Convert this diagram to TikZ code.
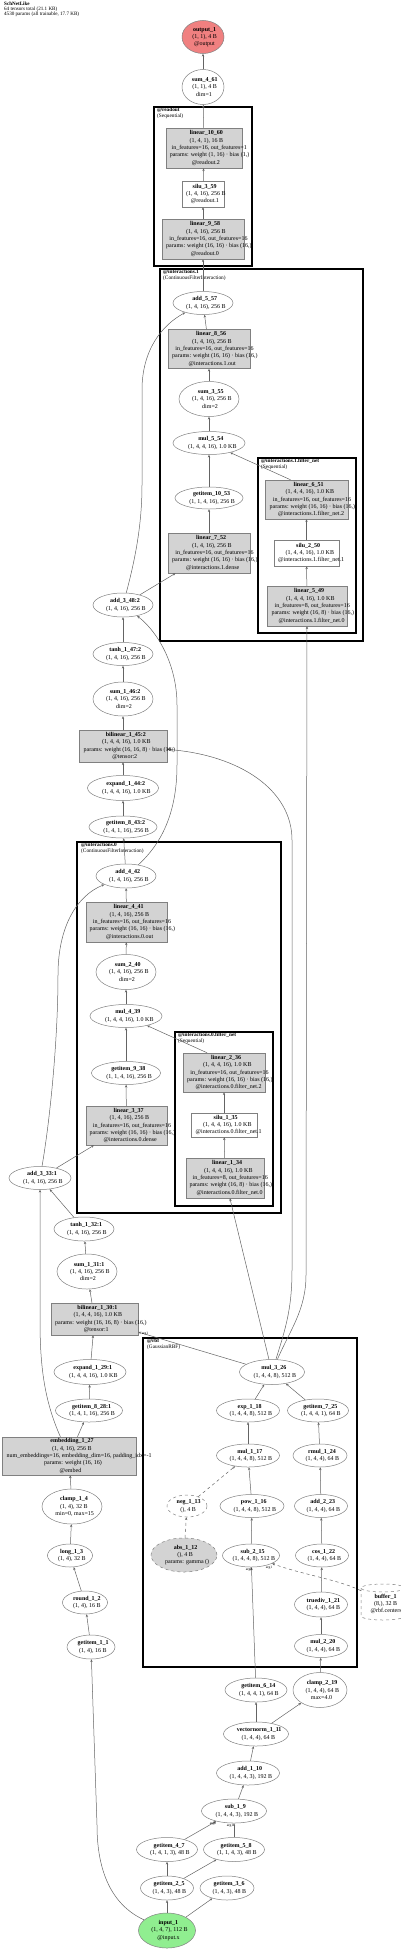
\documentclass[tikz,border=0pt]{standalone}
\usepackage{fontspec}
\setmainfont{Liberation Serif}
\usetikzlibrary{shapes.geometric,arrows.meta,calc}
\definecolor{edgec}{RGB}{100,100,100}
\definecolor{nbord}{RGB}{128,128,128}
\definecolor{boxfill}{RGB}{211,211,211}
\definecolor{outfill}{RGB}{240,128,128}
\definecolor{infill}{RGB}{144,238,144}
\ExplSyntaxOn
\seq_new:N \l_rs_lines_seq
\tl_new:N \l_rs_out_tl
\bool_new:N \l_rs_first_bool
\dim_new:N \l_rs_shift_dim
\cs_new_protected:Npn \rs_shline:n #1
  {
    \hbox_set:Nn \l_tmpa_box {#1}
    \dim_set:Nn \l_rs_shift_dim { 0.14 \box_wd:N \l_tmpa_box }
    \hbox:n { \kern \l_rs_shift_dim \box_use:N \l_tmpa_box }
  }
\NewDocumentCommand \shtext { m }
  {
    \seq_set_split:Nnn \l_rs_lines_seq { \\ } {#1}
    \tl_clear:N \l_rs_out_tl
    \bool_set_true:N \l_rs_first_bool
    \seq_map_inline:Nn \l_rs_lines_seq
      {
        \bool_if:NF \l_rs_first_bool { \tl_put_right:Nn \l_rs_out_tl { \\ } }
        \bool_set_false:N \l_rs_first_bool
        \tl_put_right:Nn \l_rs_out_tl { \rs_shline:n {##1} }
      }
    \tl_use:N \l_rs_out_tl
  }
\ExplSyntaxOff
\newcommand\nd[7]{%
  \node[#2, minimum width=#5pt, minimum height=#6pt] (#1) at (#3,#4) {};
  \node[txt] (#1-t) at (#1.center) {\shtext{#7}};%
}
\begin{document}
\begin{tikzpicture}[x=1pt,y=-1pt,
  txt/.style={align=center, inner sep=0pt, font=\fontsize{6.0}{7.3}\selectfont},
  base/.style={inner sep=0pt, draw=nbord, line width=0.5pt},
  ell/.style={base, ellipse},
  dell/.style={base, ellipse, dashed},
  gell/.style={base, ellipse, dashed, fill=boxfill},
  outn/.style={base, ellipse, fill=outfill},
  inn/.style={base, ellipse, fill=infill},
  box/.style={base, rectangle, fill=boxfill},
  wbox/.style={base, rectangle, fill=white},
  clus/.style={draw=black, line width=2pt},
  clab/.style={anchor=north west, align=left, inner sep=0pt, font=\fontsize{5.3}{5.4}\selectfont},
  e/.style={draw=edgec, line width=0.5pt, -{Stealth[length=2.8pt,width=2.4pt]}},
  lab/.style={inner sep=0pt, font=\fontsize{3.6}{4}\selectfont}
]
\useasboundingbox (0,0) rectangle (400,1951);

% header
\node[anchor=north west, align=left, inner sep=0pt, font=\fontsize{5.1}{5}\selectfont] (hdr) at (4,2)
  {\textbf{SchNetLike}\\64 tensors total (21.1 KB)\\4530 params (all trainable, 17.7 KB)};

% clusters
\draw[clus] (154,107) rectangle (252,266);
\node[clab] (cl1) at (157,108) {\textbf{@readout}\\(Sequential)};
\draw[clus] (160,269) rectangle (363,641);
\node[clab] (cl2) at (163,270) {\textbf{@interactions.1}\\(ContinuousFilterInteraction)};
\draw[clus] (258,458) rectangle (356,633);
\node[clab] (cl3) at (261,459) {\textbf{@interactions.1.filter\_net}\\(Sequential)};
\draw[clus] (77,842) rectangle (281,1213);
\node[clab] (cl4) at (81,843) {\textbf{@interactions.0}\\(ContinuousFilterInteraction)};
\draw[clus] (175,1032) rectangle (273,1206);
\node[clab] (cl5) at (178,1033) {\textbf{@interactions.0.filter\_net}\\(Sequential)};
\draw[clus] (143,1338) rectangle (357,1667);
\node[clab] (cl6) at (147,1339) {\textbf{@rbf}\\(GaussianRBF)};

% nodes
\nd{o1}{outn}{203}{37}{42}{33}{\textbf{output\_1}\\(1, 1), 4 B\\@output}
\nd{s461}{ell}{203}{87}{42}{35}{\textbf{sum\_4\_61}\\(1, 1), 4 B\\dim=1}
\nd{l1060}{box}{204}{148}{76}{40}{\textbf{linear\_10\_60}\\(1, 4, 1), 16 B\\in\_features=16, out\_features=1\\params: weight (1, 16) · bias (1,)\\@readout.2}
\nd{si359}{wbox}{203}{194}{42}{26}{\textbf{silu\_3\_59}\\(1, 4, 16), 256 B\\@readout.1}
\nd{l958}{box}{203}{239}{82}{40}{\textbf{linear\_9\_58}\\(1, 4, 16), 256 B\\in\_features=16, out\_features=16\\params: weight (16, 16) · bias (16,)\\@readout.0}
\nd{a557}{ell}{203}{303}{60}{23}{\textbf{add\_5\_57}\\(1, 4, 16), 256 B}
\nd{l856}{box}{209}{349}{82}{39}{\textbf{linear\_8\_56}\\(1, 4, 16), 256 B\\in\_features=16, out\_features=16\\params: weight (16, 16) · bias (16,)\\@interactions.1.out}
\nd{s355}{ell}{209}{399}{60}{35}{\textbf{sum\_3\_55}\\(1, 4, 16), 256 B\\dim=2}
\nd{m554}{ell}{209}{443}{72}{23}{\textbf{mul\_5\_54}\\(1, 4, 4, 16), 1.0 KB}
\nd{g1053}{ell}{209}{498}{68}{22}{\textbf{getitem\_10\_53}\\(1, 1, 4, 16), 256 B}
\nd{l752}{box}{209}{553}{82}{40}{\textbf{linear\_7\_52}\\(1, 4, 16), 256 B\\in\_features=16, out\_features=16\\params: weight (16, 16) · bias (16,)\\@interactions.1.dense}
\nd{l651}{box}{306.5}{499.5}{83}{39}{\textbf{linear\_6\_51}\\(1, 4, 4, 16), 1.0 KB\\in\_features=16, out\_features=16\\params: weight (16, 16) · bias (16,)\\@interactions.1.filter\_net.2}
\nd{si250}{wbox}{306.5}{553}{65}{26}{\textbf{silu\_2\_50}\\(1, 4, 4, 16), 1.0 KB\\@interactions.1.filter\_net.1}
\nd{l549}{box}{307}{606}{80}{40}{\textbf{linear\_5\_49}\\(1, 4, 4, 16), 1.0 KB\\in\_features=8, out\_features=16\\params: weight (16, 8) · bias (16,)\\@interactions.1.filter\_net.0}
\nd{a348}{ell}{123}{605}{60}{24}{\textbf{add\_3\_48:2}\\(1, 4, 16), 256 B}
\nd{t147}{ell}{123}{654}{60}{23}{\textbf{tanh\_1\_47:2}\\(1, 4, 16), 256 B}
\nd{s146}{ell}{123}{699}{60}{34}{\textbf{sum\_1\_46:2}\\(1, 4, 16), 256 B\\dim=2}
\nd{b452}{box}{123}{746}{88}{32}{\textbf{bilinear\_1\_45:2}\\(1, 4, 4, 16), 1.0 KB\\params: weight (16, 16, 8) · bias (16,)\\@tensor:2}
\nd{e144}{ell}{123}{788}{71}{25}{\textbf{expand\_1\_44:2}\\(1, 4, 4, 16), 1.0 KB}
\nd{g843}{ell}{123}{827}{68}{22}{\textbf{getitem\_8\_43:2}\\(1, 4, 1, 16), 256 B}
\nd{a442}{ell}{126}{876}{60}{24}{\textbf{add\_4\_42}\\(1, 4, 16), 256 B}
\nd{l441}{box}{126.5}{922}{81}{40}{\textbf{linear\_4\_41}\\(1, 4, 16), 256 B\\in\_features=16, out\_features=16\\params: weight (16, 16) · bias (16,)\\@interactions.0.out}
\nd{s240}{ell}{126}{972}{60}{35}{\textbf{sum\_2\_40}\\(1, 4, 16), 256 B\\dim=2}
\nd{m439}{ell}{126}{1016}{72}{23}{\textbf{mul\_4\_39}\\(1, 4, 4, 16), 1.0 KB}
\nd{g938}{ell}{126}{1073}{69}{23}{\textbf{getitem\_9\_38}\\(1, 1, 4, 16), 256 B}
\nd{l337}{box}{126.5}{1125.5}{81}{39}{\textbf{linear\_3\_37}\\(1, 4, 16), 256 B\\in\_features=16, out\_features=16\\params: weight (16, 16) · bias (16,)\\@interactions.0.dense}
\nd{l236}{box}{224}{1072.5}{82}{39}{\textbf{linear\_2\_36}\\(1, 4, 4, 16), 1.0 KB\\in\_features=16, out\_features=16\\params: weight (16, 16) · bias (16,)\\@interactions.0.filter\_net.2}
\nd{si135}{wbox}{224}{1125}{66}{24}{\textbf{silu\_1\_35}\\(1, 4, 4, 16), 1.0 KB\\@interactions.0.filter\_net.1}
\nd{l134}{box}{225}{1178}{78}{40}{\textbf{linear\_1\_34}\\(1, 4, 4, 16), 1.0 KB\\in\_features=8, out\_features=16\\params: weight (16, 8) · bias (16,)\\@interactions.0.filter\_net.0}
\nd{a333}{ell}{40}{1178}{62}{23}{\textbf{add\_3\_33:1}\\(1, 4, 16), 256 B}
\nd{t132}{ell}{84}{1229}{60}{24}{\textbf{tanh\_1\_32:1}\\(1, 4, 16), 256 B}
\nd{s131}{ell}{87}{1271.5}{60}{35}{\textbf{sum\_1\_31:1}\\(1, 4, 16), 256 B\\dim=2}
\nd{b301}{box}{94.5}{1319}{87}{32}{\textbf{bilinear\_1\_30:1}\\(1, 4, 4, 16), 1.0 KB\\params: weight (16, 16, 8) · bias (16,)\\@tensor:1}
\nd{e129}{ell}{90}{1372}{72}{25}{\textbf{expand\_1\_29:1}\\(1, 4, 4, 16), 1.0 KB}
\nd{m326}{ell}{272}{1372}{65}{25}{\textbf{mul\_3\_26}\\(1, 4, 4, 8), 512 B}
\nd{g828}{ell}{89}{1410.5}{67}{23}{\textbf{getitem\_8\_28:1}\\(1, 4, 1, 16), 256 B}
\nd{x118}{ell}{248}{1410.5}{63}{23}{\textbf{exp\_1\_18}\\(1, 4, 4, 8), 512 B}
\nd{g725}{ell}{318}{1410.5}{61}{23}{\textbf{getitem\_7\_25}\\(1, 4, 4, 1), 64 B}
\nd{emb}{box}{69}{1456}{134}{38}{\textbf{embedding\_1\_27}\\(1, 4, 16), 256 B\\num\_embeddings=16, embedding\_dim=16, padding\_idx=-1\\params: weight (16, 16)\\@embed}
\nd{m117}{ell}{248}{1455.5}{63}{23}{\textbf{mul\_1\_17}\\(1, 4, 4, 8), 512 B}
\nd{rm124}{ell}{320}{1455.5}{54}{23}{\textbf{rmul\_1\_24}\\(1, 4, 4), 64 B}
\nd{c14}{ell}{72}{1506.5}{60}{35}{\textbf{clamp\_1\_4}\\(1, 4), 32 B\\min=0, max=15}
\nd{n113}{dell}{187}{1506}{40}{22}{\textbf{neg\_1\_13}\\(), 4 B}
\nd{p116}{ell}{252}{1506}{64}{23}{\textbf{pow\_1\_16}\\(1, 4, 4, 8), 512 B}
\nd{a223}{ell}{321}{1506}{53}{23}{\textbf{add\_2\_23}\\(1, 4, 4), 64 B}
\nd{ab112}{gell}{184}{1555}{66}{34}{\textbf{abs\_1\_12}\\(), 4 B\\params: gamma ()}
\nd{l13}{ell}{70}{1555.5}{45}{23}{\textbf{long\_1\_3}\\(1, 4), 32 B}
\nd{s215}{ell}{251}{1555.5}{57}{23}{\textbf{sub\_2\_15}\\(1, 4, 4, 8), 512 B}
\nd{c122}{ell}{322}{1555.5}{53}{23}{\textbf{cos\_1\_22}\\(1, 4, 4), 64 B}
\nd{r12}{ell}{85}{1602.5}{45}{23}{\textbf{round\_1\_2}\\(1, 4), 16 B}
\nd{td}{ell}{321}{1604.5}{53}{25}{\textbf{truediv\_1\_21}\\(1, 4, 4), 64 B}
\nd{g11}{ell}{91}{1647}{48}{24}{\textbf{getitem\_1\_1}\\(1, 4), 16 B}
\nd{m220}{ell}{321}{1646}{53}{23}{\textbf{mul\_2\_20}\\(1, 4, 4), 64 B}
\nd{g614}{ell}{256}{1690}{62}{24}{\textbf{getitem\_6\_14}\\(1, 4, 4, 1), 64 B}
\nd{c219}{ell}{320}{1690}{54}{35}{\textbf{clamp\_2\_19}\\(1, 4, 4), 64 B\\max=4.0}
\nd{vn}{ell}{256}{1734}{65}{24}{\textbf{vectornorm\_1\_11}\\(1, 4, 4), 64 B}
\nd{a110}{ell}{248}{1773}{63}{24}{\textbf{add\_1\_10}\\(1, 4, 4, 3), 192 B}
\nd{s19}{ell}{234}{1811}{65}{24}{\textbf{sub\_1\_9}\\(1, 4, 4, 3), 192 B}
\nd{g47}{ell}{167}{1849.5}{61}{24}{\textbf{getitem\_4\_7}\\(1, 4, 1, 3), 48 B}
\nd{g58}{ell}{234}{1849.5}{61}{24}{\textbf{getitem\_5\_8}\\(1, 1, 4, 3), 48 B}
\nd{g25}{ell}{167}{1888}{53}{24}{\textbf{getitem\_2\_5}\\(1, 4, 3), 48 B}
\nd{g36}{ell}{227}{1888}{54}{24}{\textbf{getitem\_3\_6}\\(1, 4, 3), 48 B}
\nd{i1}{inn}{167}{1930.5}{57}{35}{\textbf{input\_1}\\(1, 4, 7), 112 B\\@input.x}

% buffer (cylinder)
\node[inner sep=0pt, minimum width=44pt, minimum height=36pt] (buf) at (383,1602) {};
\draw[draw=nbord, line width=0.5pt, dashed] (383,1588) ellipse [x radius=22, y radius=4];
\draw[draw=nbord, line width=0.5pt, dashed] (361,1588) -- (361,1616) arc[start angle=180, end angle=0, x radius=22, y radius=4] -- (405,1588);
\node[txt] (buf-t) at (384,1604) {\shtext{\textbf{buffer\_1}\\(8,), 32 B\\@rbf.centers}};

% edges
\draw[e] (i1) -- (g25);
\draw[e] (i1) -- (g36);
\draw[e] (i1) .. controls (112,1905) and (97,1872) .. (97,1825) -- (g11);
\draw[e] (g25) -- (g47);
\draw[e] (g25) -- (g58);
\draw[e] (g47) -- (s19);
\draw[e] (g58) -- (s19);
\draw[e] (s19) -- (a110);
\draw[e] (a110) -- (vn);
\draw[e] (vn) -- (g614);
\draw[e] (vn) -- (c219);
\draw[e] (c219) -- (m220);
\draw[e] (g614) -- (s215);
\draw[e, dashed] (buf) .. controls (340,1580) and (300,1574) .. (s215);
\draw[e] (m220) -- (td);
\draw[e] (td) -- (c122);
\draw[e] (c122) -- (a223);
\draw[e] (a223) -- (rm124);
\draw[e] (rm124) -- (g725);
\draw[e] (g725) -- (m326);
\draw[e] (s215) -- (p116);
\draw[e] (p116) -- (m117);
\draw[e, dashed] (ab112) -- (n113);
\draw[e, dashed] (n113) -- (m117);
\draw[e] (m117) -- (x118);
\draw[e] (x118) -- (m326);
\draw[e] (m326) -- (b301);
\draw[e] (m326) -- (l134);
\draw[e] (m326) .. controls (285,1330) and (292,1310) .. (292,1270) -- (292,840) .. controls (292,790) and (240,755) .. (b452);
\draw[e] (m326) .. controls (290,1330) and (306,1310) .. (306,1275) -- (l549);
\draw[e] (g11) -- (r12);
\draw[e] (r12) -- (l13);
\draw[e] (l13) -- (c14);
\draw[e] (c14) -- (emb);
\draw[e] (emb) -- (g828);
\draw[e] (emb) .. controls (44,1400) and (40,1365) .. (40,1320) -- (a333);
\draw[e] (g828) -- (e129);
\draw[e] (e129) -- (b301);
\draw[e] (b301) -- (s131);
\draw[e] (s131) -- (t132);
\draw[e] (t132) -- (a333);
\draw[e] (a333) -- (l337);
\draw[e] (a333) .. controls (50,1120) and (58,1040) .. (58,975) .. controls (58,925) and (78,895) .. (a442);
\draw[e] (l337) -- (g938);
\draw[e] (g938) -- (m439);
\draw[e] (l134) -- (si135);
\draw[e] (si135) -- (l236);
\draw[e] ([xshift=-17pt]l236.north) -- (m439);
\draw[e] (m439) -- (s240);
\draw[e] (s240) -- (l441);
\draw[e] (l441) -- (a442);
\draw[e] (a442) -- (g843);
\draw[e] (a442) .. controls (160,845) and (177,815) .. (177,765) -- (177,705) .. controls (177,665) and (158,632) .. (a348);
\draw[e] (g843) -- (e144);
\draw[e] (e144) -- (b452);
\draw[e] (b452) -- (s146);
\draw[e] (s146) -- (t147);
\draw[e] (t147) -- (a348);
\draw[e] (a348) -- (l752);
\draw[e] (a348) .. controls (135,560) and (142,525) .. (142,485) -- (142,390) .. controls (142,350) and (162,325) .. (a557);
\draw[e] (l752) -- (g1053);
\draw[e] (g1053) -- (m554);
\draw[e] (l549) -- (si250);
\draw[e] (si250) -- (l651);
\draw[e] ([xshift=-16pt]l651.north) -- (m554);
\draw[e] (m554) -- (s355);
\draw[e] (s355) -- (l856);
\draw[e] (l856) -- (a557);
\draw[e] (a557) -- (l958);
\draw[e] (l958) -- (si359);
\draw[e] (si359) -- (l1060);
\draw[e] (l1060) -- (s461);
\draw[e] (s461) -- (o1);

% edge labels
\node[lab] (lb1) at (213,1824) {arg0};
\node[lab] (lb2) at (230,1826) {arg1};
\node[lab] (lb3) at (249,1570) {arg0};
\node[lab] (lb4) at (269,1568) {arg1};
\node[lab] (lb5) at (145,1334) {arg1};
\node[lab] (lb6) at (170,750) {arg1};
\end{tikzpicture}
\end{document}
